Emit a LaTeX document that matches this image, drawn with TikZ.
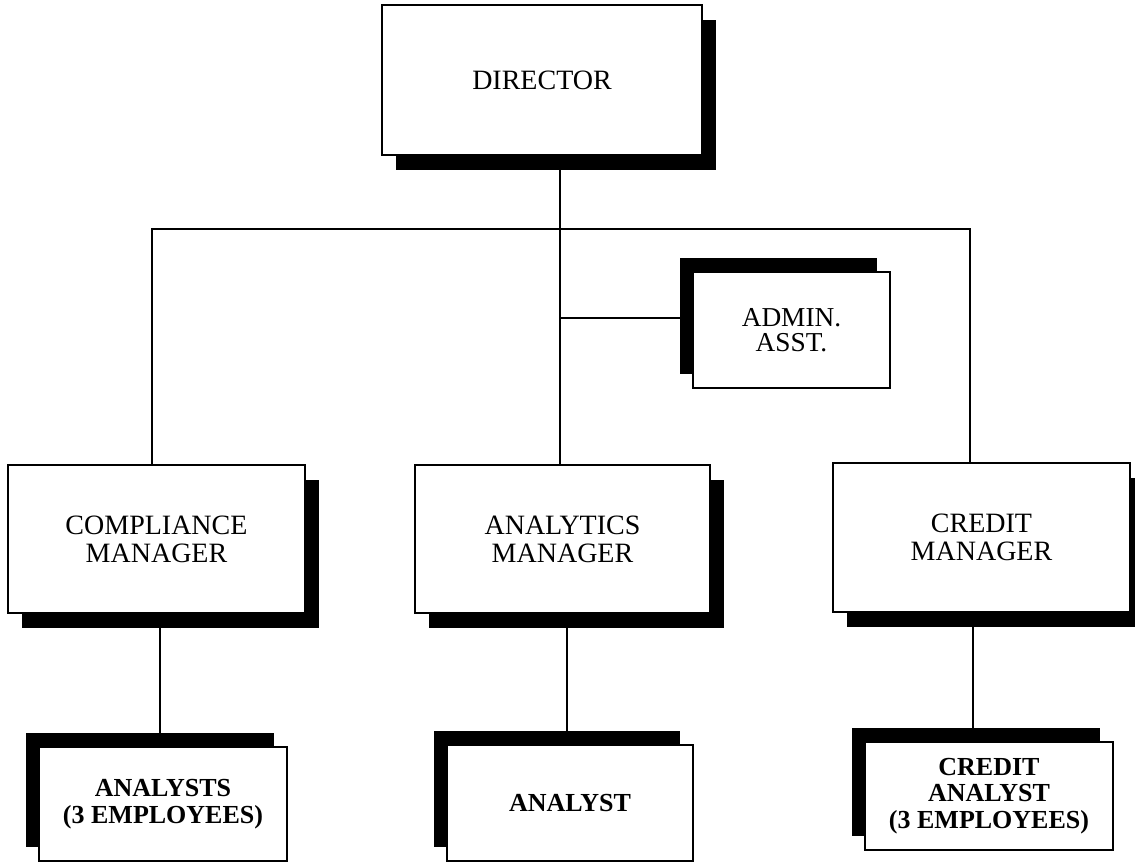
\documentclass[tikz,border=0pt]{standalone}
\usepackage{fontspec}
\setmainfont{Liberation Serif}
\usetikzlibrary{shadows}
\begin{document}
\begin{tikzpicture}[x=0.75pt,y=-0.75pt,
  link/.style={line width=1.6pt},
  orgbox/.style 2 args={draw, line width=1.4pt, fill=white, inner sep=0pt,
    outer sep=0pt, align=center, minimum width=#1*0.75pt,
    minimum height=#2*0.75pt, font=\fontsize{21}{21}\selectfont},
  lowtext/.style={font=\fontsize{19.5}{20}\selectfont\bfseries},
  smalltext/.style={font=\fontsize{20.5}{19}\selectfont},
  shadowdr/.style={drop shadow={shadow xshift=10.5pt, shadow yshift=-11pt,
    opacity=1, fill=black}},
  shadowul/.style={drop shadow={shadow xshift=-9.75pt, shadow yshift=10.5pt,
    opacity=1, fill=black}},
]
\useasboundingbox (0,0) rectangle (1135,863);

% boxes
\node[orgbox={320}{150}, shadowdr] (dir) at (542,80) {DIRECTOR};
\node[orgbox={197}{116}, shadowul, smalltext] (adm) at (791.5,330) {ADMIN.\\ASST.};
\node[orgbox={297}{148}, shadowdr] (cmp) at (156.5,539) {COMPLIANCE\\MANAGER};
\node[orgbox={295}{148}, shadowdr] (anm) at (562.5,539) {ANALYTICS\\MANAGER};
\node[orgbox={297}{149}, shadowdr] (crm) at (981.5,537.5) {CREDIT\\MANAGER};
\node[orgbox={248}{114}, shadowul, lowtext] (an1) at (163,804) {ANALYSTS\\(3 EMPLOYEES)};
\node[orgbox={246}{116}, shadowul, lowtext] (an2) at (570,803) {ANALYST};
\node[orgbox={248}{108}, shadowul, lowtext] (an3) at (989,796) {CREDIT\\ANALYST\\(3 EMPLOYEES)};

% junction points of the main bus
\coordinate (bus) at (560,229);
\coordinate (busL) at (152,229);
\coordinate (busR) at (970,229);
\coordinate (admj) at (560,318);

% connectors
\draw[link] (dir.south -| bus) -- (bus);
\draw[link] (busL |- cmp.north) -- (busL) -- (busR) -- (busR |- crm.north);
\draw[link] (bus) -- (bus |- anm.north);
\draw[link] (admj) -- (admj -| adm.west);
\draw[link] ([xshift=2.6pt]cmp.south) -- ([xshift=2.6pt]cmp.south |- an1.north);
\draw[link] ([xshift=3.4pt]anm.south) -- ([xshift=3.4pt]anm.south |- an2.north);
\draw[link] ([xshift=-6.4pt]crm.south) -- ([xshift=-6.4pt]crm.south |- an3.north);
\end{tikzpicture}
\end{document}
